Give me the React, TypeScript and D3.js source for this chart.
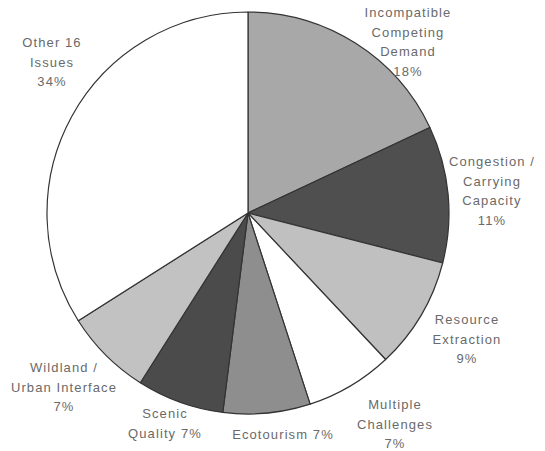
import * as d3 from "d3";

const width = 545;
const height = 451;

// slices, clockwise from 12 o'clock
const categories = [
  "Incompatible Competing Demand",
  "Congestion / Carrying Capacity",
  "Resource Extraction",
  "Multiple Challenges",
  "Ecotourism",
  "Scenic Quality",
  "Wildland / Urban Interface",
  "Other 16 Issues",
];
const percents = [18, 11, 9, 7, 7, 7, 7, 34];
const fills = ["#a8a8a8", "#4f4f4f", "#c0c0c0", "#ffffff", "#8e8e8e", "#4b4b4b", "#c2c2c2", "#ffffff"];

// label text lines as printed
const labelLines = [
  ["Incompatible", "Competing", "Demand", "18%"],
  ["Congestion /", "Carrying", "Capacity", "11%"],
  ["Resource", "Extraction", "9%"],
  ["Multiple", "Challenges", "7%"],
  ["Ecotourism 7%"],
  ["Scenic", "Quality 7%"],
  ["Wildland /", "Urban Interface", "7%"],
  ["Other 16", "Issues", "34%"],
];

// where each label block sits (first line baseline), page coords
const labelPos: [number, number][] = [
  [408, 7],
  [492, 156],
  [467, 314],
  [395, 399],
  [283, 429],
  [165, 408],
  [64, 362],
  [52, 37],
];

const cx = 248;
const cy = 213;
const radius = 201;
const lineHeight = 19.5;

export default function App() {
  const pie = d3.pie<number>().sort(null).value(d => d).startAngle(0).endAngle(2 * Math.PI);
  const arcs = pie(percents);
  const arc = d3.arc<d3.PieArcDatum<number>>().innerRadius(0).outerRadius(radius);

  return (
    <svg width={width} height={height} style={{ position: "absolute", left: 0, top: 0, background: "#fff" }}>
      <g transform={`translate(${cx},${cy})`}>
        {arcs.map((a, i) => (
          <path key={categories[i]} d={arc(a) || ""} fill={fills[i]} stroke="#333" strokeWidth={1.2} strokeLinejoin="round" />
        ))}
      </g>
      <g fontFamily="'Liberation Sans', Arial, sans-serif" fontSize={13} fill="#6a6a6a" textAnchor="middle" letterSpacing={1.1}>
        {labelLines.map((lines, i) => (
          <text key={categories[i]} x={labelPos[i][0]} y={labelPos[i][1]} dominantBaseline="hanging">
            {lines.map((l, j) => (
              <tspan key={j} x={labelPos[i][0]} dy={j === 0 ? 0 : lineHeight}>{l}</tspan>
            ))}
          </text>
        ))}
      </g>
    </svg>
  );
}
